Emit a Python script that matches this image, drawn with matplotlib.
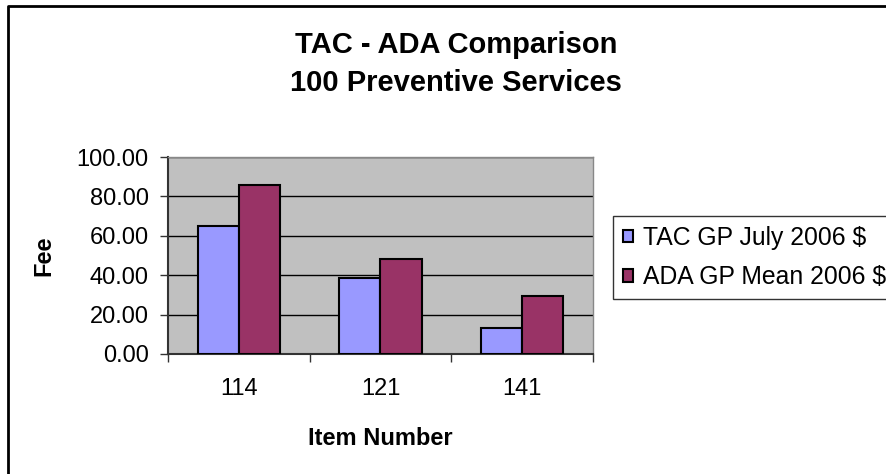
import numpy as np
import matplotlib
matplotlib.use("Agg")
import matplotlib.pyplot as plt
from matplotlib.lines import Line2D

plt.rcParams['font.family'] = ['Liberation Sans', 'DejaVu Sans']

# Chart data
items = ['114', '121', '141']
tac_fees = [65.0, 38.5, 13.0]
ada_fees = [86.0, 48.0, 29.2]
series_names = ['TAC GP July 2006 $', 'ADA GP Mean 2006 $']
y_ticks = [0, 20, 40, 60, 80, 100]

W, H = 887, 474
fig = plt.figure(figsize=(W / 100, H / 100), dpi=100)

# Plot area in pixel terms
left, right, top, bottom = 168, 593, 157, 354
ax = fig.add_axes([left / W, 1 - bottom / H, (right - left) / W, (bottom - top) / H])
ax.set_facecolor('#C0C0C0')

x = np.arange(len(items))
bw = 0.29
ax.bar(x - bw / 2, tac_fees, bw, color='#9999FF', edgecolor='black', linewidth=1.5,
       label=series_names[0], zorder=3)
ax.bar(x + bw / 2, ada_fees, bw, color='#993366', edgecolor='black', linewidth=1.5,
       label=series_names[1], zorder=3)

ax.set_xlim(-0.5, len(items) - 0.5)
ax.set_ylim(0, 100)
ax.set_yticks(y_ticks)
ax.set_yticklabels([f"{v:.2f}" for v in y_ticks], fontsize=17)
ax.yaxis.grid(True, color='black', linewidth=1.0, zorder=1)
ax.set_axisbelow(True)

# category labels centered, ticks on the boundaries
ax.set_xticks(x)
ax.set_xticklabels(items, fontsize=17)
ax.tick_params(axis='x', length=0, pad=17)
ax.set_xticks(np.arange(len(items) + 1) - 0.5, minor=True)
ax.tick_params(axis='x', which='minor', length=6, width=1.0, direction='out', color='#333333')
ax.tick_params(axis='y', length=6, width=1.0, direction='out', color='#333333', pad=8)

for side in ['top', 'right']:
    ax.spines[side].set_color('#888888')
    ax.spines[side].set_linewidth(1.0)
for side in ['left', 'bottom']:
    ax.spines[side].set_color('#333333')
    ax.spines[side].set_linewidth(1.5)

ax.set_xlabel('Item Number', fontsize=17, fontweight='bold', labelpad=20)
ax.set_ylabel('Fee', fontsize=17, fontweight='bold', labelpad=15)

fig.text(456 / W, 1 - 45 / H, 'TAC - ADA Comparison', ha='center', va='center',
         fontsize=21, fontweight='bold')
fig.text(456 / W, 1 - 83 / H, '100 Preventive Services', ha='center', va='center',
         fontsize=21, fontweight='bold')

leg = fig.legend(loc='upper left', bbox_to_anchor=(613 / W, 1 - 216 / H),
                 fontsize=17.8, frameon=True, fancybox=False, edgecolor='black',
                 handlelength=0.42, handleheight=0.42, handletextpad=0.4,
                 labelspacing=0.62, borderpad=0.4, borderaxespad=0)
leg.get_frame().set_linewidth(1.0)

# chart-area border (left and top only visible in the crop)
fig.add_artist(Line2D([8.5 / W, 8.5 / W, 1.0], [0.0, 1 - 5.5 / H, 1 - 5.5 / H],
                      transform=fig.transFigure, color='black', linewidth=2.0))

fig.savefig('out.png', dpi=100)
